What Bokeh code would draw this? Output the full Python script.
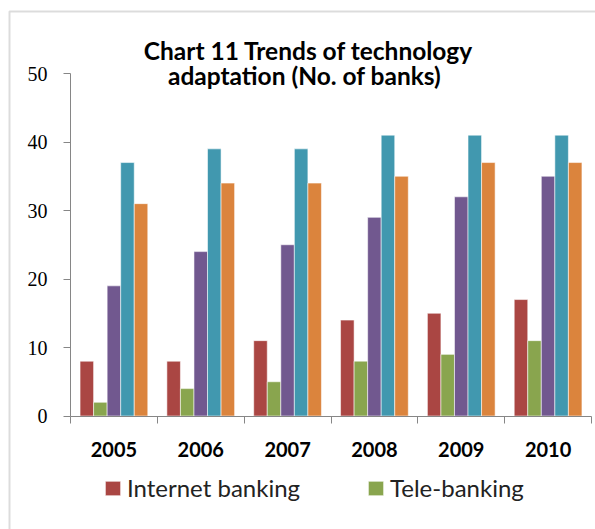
import numpy as np
from bokeh.plotting import figure
from bokeh.models import (Range1d, FixedTicker, Legend, LegendItem, Label,
                          BoxAnnotation, ColumnDataSource)
from bokeh.embed import file_html
from bokeh.resources import INLINE

# ---- data -----------------------------------------------------------------
years = ["2005", "2006", "2007", "2008", "2009", "2010"]
internet_banking = [8, 8, 11, 14, 15, 17]
tele_banking = [2, 4, 5, 8, 9, 11]
mobile_banking = [19, 24, 25, 29, 32, 35]
atm_network = [37, 39, 39, 41, 41, 41]
core_banking = [31, 34, 34, 35, 37, 37]
series_names = ["Internet banking", "Tele-banking", "Mobile banking",
                "ATM network", "Core banking"]
series_values = [internet_banking, tele_banking, mobile_banking,
                 atm_network, core_banking]
y_ticks = [0, 10, 20, 30, 40, 50]

colors = ["#AA4643", "#89A54E", "#71588F", "#4198AF", "#DB843D"]

# ---- layout geometry (pixels of the 595x529 canvas) -----------------------
W, H = 595, 529
X0_PX, X6_PX = 70, 591          # x = 0 and x = 6
Y0_PX, Y50_PX = 415.5, 73       # y = 0 and y = 50
px_x = (X6_PX - X0_PX) / len(years)
px_y = (Y0_PX - Y50_PX) / 50
x_rng = Range1d(-X0_PX / px_x, (W - X0_PX) / px_x)
y_rng = Range1d(-(H - Y0_PX) / px_y, Y0_PX / px_y)

p = figure(width=W, height=H, output_backend="svg", toolbar_location=None,
           x_range=x_rng, y_range=y_rng, min_border=0,
           min_border_left=0, min_border_right=0, min_border_top=0,
           min_border_bottom=0)
p.background_fill_color = "white"
p.border_fill_color = "white"
p.outline_line_color = None
p.xgrid.visible = False
p.ygrid.visible = False

# outer chart-area border
p.add_layout(BoxAnnotation(left=(9 - X0_PX) / px_x, top=(Y0_PX - 11) / px_y,
                           right=20, bottom=-100,
                           fill_alpha=0, line_color="#8c8c8c", line_width=2,
                           level="underlay"))

bar_w = 0.156
offsets = [(k - 2) * bar_w for k in range(5)]
centers = np.arange(len(years)) + 0.5
renderers = []
for k, (name, vals) in enumerate(zip(series_names, series_values)):
    src = ColumnDataSource(dict(x=centers + offsets[k], top=vals))
    r = p.vbar(x="x", top="top", width=bar_w, bottom=0, source=src,
               fill_color=colors[k], line_color="white", line_alpha=0.55,
               line_width=1)
    renderers.append(r)

# ---- axes -----------------------------------------------------------------
axis_color = "#868686"
p.yaxis.fixed_location = 0
p.yaxis.bounds = (0, 50)
p.yaxis.ticker = FixedTicker(ticks=y_ticks)
p.yaxis.axis_line_color = axis_color
p.yaxis.major_tick_line_color = axis_color
p.yaxis.major_tick_out = 7
p.yaxis.major_tick_in = 0
p.yaxis.minor_tick_line_color = None
p.yaxis.major_label_standoff = 16
p.yaxis.major_label_text_font = "Liberation Serif"
p.yaxis.major_label_text_font_size = "20px"
p.yaxis.major_label_text_color = "black"

p.xaxis.fixed_location = 0
p.xaxis.bounds = (0, len(years))
p.xaxis.ticker = FixedTicker(ticks=list(centers),
                             minor_ticks=list(range(len(years) + 1)))
p.xaxis.major_label_overrides = {float(c): y for c, y in zip(centers, years)}
p.xaxis.axis_line_color = axis_color
p.xaxis.major_tick_line_color = None
p.xaxis.major_tick_out = 0
p.xaxis.major_tick_in = 0
p.xaxis.minor_tick_line_color = axis_color
p.xaxis.minor_tick_out = 7
p.xaxis.minor_tick_in = 0
p.xaxis.major_label_standoff = 19
p.xaxis.major_label_text_font = "Lato"
p.xaxis.major_label_text_font_style = "bold"
p.xaxis.major_label_text_font_size = "20px"
p.xaxis.major_label_text_color = "black"

# ---- title ----------------------------------------------------------------
p.add_layout(Label(x=2.742, y=53.3, text="Chart 11 Trends of technology",
                   text_align="center", text_baseline="alphabetic",
                   text_font="Lato", text_font_style="bold",
                   text_font_size="24.5px", text_color="black"))
p.add_layout(Label(x=2.696, y=49.7, text="adaptation (No. of banks)",
                   text_align="center", text_baseline="alphabetic",
                   text_font="Lato", text_font_style="bold",
                   text_font_size="24.5px", text_color="black"))

# ---- legend ---------------------------------------------------------------
legend = Legend(items=[LegendItem(label=series_names[0], renderers=[renderers[0]]),
                       LegendItem(label=series_names[1], renderers=[renderers[1]])],
                location=(103, 27), orientation="horizontal",
                glyph_width=19, glyph_height=18, label_standoff=5, spacing=66,
                padding=0, margin=0, border_line_alpha=0,
                background_fill_alpha=0,
                label_text_font="Lato", label_text_font_size="24px",
                label_text_color="#222222")
p.add_layout(legend, "center")

open("out.html", "w").write(file_html(p, INLINE))
